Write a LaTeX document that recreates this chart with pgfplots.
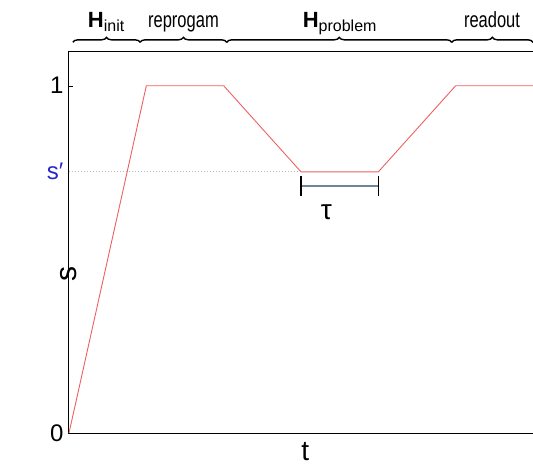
\documentclass[border=0pt]{standalone}
\usepackage{pgfplots}
\pgfplotsset{compat=1.18}
\usepackage{fontspec}
\setmainfont{Liberation Sans}
\usetikzlibrary{decorations.pathreplacing}
\definecolor{curve}{RGB}{238,96,96}
\definecolor{sblue}{RGB}{40,40,200}
\definecolor{slate}{RGB}{110,135,150}
\begin{document}
\begin{tikzpicture}
\begin{axis}[scale only axis,width=464pt,height=382pt,
 xmin=0,xmax=6,ymin=0,ymax=1.1,clip=false,
 axis line style={draw=none},
 xtick=\empty,ytick={0,1},yticklabels={0,1},ytick pos=left,
 extra y ticks={0.752},extra y tick labels={\textcolor{sblue}{s′}},
 extra y tick style={major tick length=0pt},
 tick align=inside,major tick length=4pt,tick style={black,thin},
 yticklabel style={font=\fontsize{24}{24}\selectfont,xshift=-2pt},
 /pgf/number format/assume math mode=true]
\draw[black,line width=1pt] (rel axis cs:0,1) -- (rel axis cs:0,0) -- (rel axis cs:1,0);
\draw[black,line width=1pt] (rel axis cs:0,1) -- (rel axis cs:1,1);
\addplot[gray!55,dotted,line width=1pt] coordinates {(0,0.752)(3,0.752)};
\addplot[curve,line width=0.9pt] coordinates {(0,0)(1,1)(2,1)(3,0.752)(4,0.752)(5,1)(6,1)};
\addplot[slate,line width=1.6pt] coordinates {(3,0.712)(4,0.712)};
\addplot[black,line width=1.6pt] coordinates {(3,0.683)(3,0.741)};
\addplot[black,line width=1.6pt] coordinates {(4,0.683)(4,0.741)};
\node at (axis cs:3.33,0.635) {\fontsize{28}{28}\selectfont τ};
\draw[decorate,decoration={brace,amplitude=5pt},line width=1.4pt] (axis cs:0.05,1.125) -- (axis cs:0.92,1.125);
\draw[decorate,decoration={brace,amplitude=5pt},line width=1.4pt] (axis cs:0.92,1.125) -- (axis cs:2.04,1.125);
\draw[decorate,decoration={brace,amplitude=5pt},line width=1.4pt] (axis cs:2.04,1.125) -- (axis cs:4.95,1.125);
\draw[decorate,decoration={brace,amplitude=5pt},line width=1.4pt] (axis cs:4.95,1.125) -- (axis cs:6,1.125);
\node[anchor=base] at (axis cs:0.48,1.167) {\fontsize{22}{22}\selectfont\textbf{H}\raisebox{-4pt}{\fontsize{16}{16}\selectfont init}};
\node[anchor=base,xscale=0.75] at (axis cs:1.48,1.167) {\fontsize{22}{22}\selectfont reprogam};
\node[anchor=base] at (axis cs:3.5,1.167) {\fontsize{22}{22}\selectfont\textbf{H}\raisebox{-4pt}{\fontsize{16}{16}\selectfont problem}};
\node[anchor=base,xscale=0.75] at (axis cs:5.47,1.167) {\fontsize{22}{22}\selectfont readout};
\node[rotate=90] at (rel axis cs:0,0.505) [xshift=-34pt] {\fontsize{30}{30}\selectfont s};
\node at (rel axis cs:0.509,0) [yshift=-19pt] {\fontsize{28}{28}\selectfont t};
\coordinate (bl) at (rel axis cs:0,0);
\end{axis}
\pgfresetboundingbox
\path[use as bounding box] ([shift={(-69pt,-34pt)}]bl) rectangle ([shift={(464pt,433pt)}]bl);
\end{tikzpicture}
\end{document}
